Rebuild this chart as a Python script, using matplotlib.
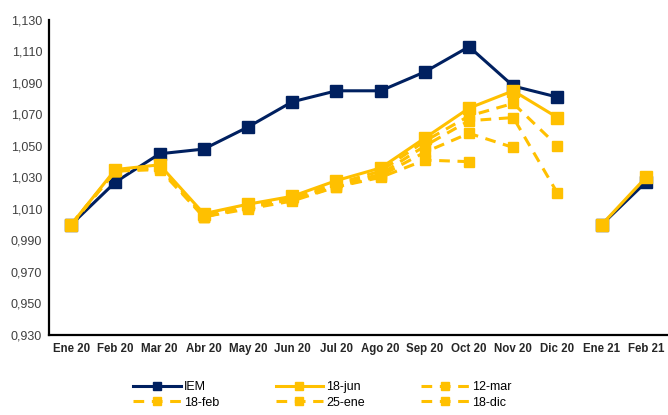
import numpy as np
import matplotlib
matplotlib.use("Agg")
import matplotlib.pyplot as plt

nan = np.nan

months = ["Ene 20", "Feb 20", "Mar 20", "Abr 20", "May 20", "Jun 20", "Jul 20",
          "Ago 20", "Sep 20", "Oct 20", "Nov 20", "Dic 20", "Ene 21", "Feb 21"]

iem = [1.000, 1.027, 1.045, 1.048, 1.062, 1.078, 1.085,
       1.085, 1.097, 1.113, 1.088, 1.081, 1.000, 1.027]
jun18 = [1.000, 1.035, 1.038, 1.007, 1.013, 1.018, 1.028,
         1.036, 1.055, 1.074, 1.085, 1.068, 1.000, 1.030]
mar12 = [1.000, 1.034, 1.037, 1.006, 1.012, 1.017, 1.026,
         1.034, 1.053, 1.069, 1.077, 1.050, nan, nan]
feb18 = [1.000, 1.034, 1.036, 1.005, 1.011, 1.016, 1.025,
         1.032, 1.050, 1.066, 1.068, 1.020, nan, nan]
ene25 = [1.000, 1.034, 1.036, 1.005, 1.011, 1.016, 1.024,
         1.031, 1.046, 1.058, 1.049, nan, nan, nan]
dic18 = [1.000, 1.034, 1.035, 1.005, 1.010, 1.015, 1.024,
         1.030, 1.041, 1.040, nan, nan, nan, nan]

yticks = [0.930, 0.950, 0.970, 0.990, 1.010, 1.030, 1.050, 1.070, 1.090, 1.110, 1.130]

NAVY = "#002060"
GOLD = "#FFC000"
DASH = (0, (3.5, 2.5))

plt.rcParams["font.family"] = ["Liberation Sans", "DejaVu Sans"]

fig = plt.figure(figsize=(6.68, 4.15), dpi=100)
ax = fig.add_axes([0.0734, 0.193, 0.9266, 0.759])

x = np.arange(len(months))
brk = 12  # the 2021 year starts a new segment


def plot_split(vals, **kw):
    vals = np.array(vals, dtype=float)
    h, = ax.plot(x[:brk], vals[:brk], **kw)
    kw.pop("label", None)
    ax.plot(x[brk:], vals[brk:], **kw)
    return h


h_iem = plot_split(iem, color=NAVY, lw=2.2, marker="s", ms=8.5, label="IEM", zorder=3)
dashed = {}
for lab, vals in [("12-mar", mar12), ("18-feb", feb18), ("25-ene", ene25), ("18-dic", dic18)]:
    dashed[lab] = plot_split(vals, color=GOLD, lw=2.2, ls=DASH, marker="s",
                             ms=7.5, label=lab, zorder=4)
h_jun = plot_split(jun18, color=GOLD, lw=2.2, marker="s", ms=8, label="18-jun", zorder=5)

ax.set_xlim(-0.5, len(months) - 0.5)
ax.set_ylim(0.930, 1.130)
ax.set_xticks(x)
ax.set_xticklabels(months, fontsize=8.3, fontweight="bold", color="#262626")
ax.set_yticks(yticks)
ax.set_yticklabels([f"{v:.3f}".replace(".", ",") for v in yticks], fontsize=9, color="#404040")
ax.tick_params(length=0, pad=6)
ax.tick_params(axis="y", pad=5)

for s in ["top", "right"]:
    ax.spines[s].set_visible(False)
for s in ["left", "bottom"]:
    ax.spines[s].set_color("black")
    ax.spines[s].set_linewidth(1.6)

handles = [h_iem, dashed["18-feb"], h_jun, dashed["25-ene"], dashed["12-mar"], dashed["18-dic"]]
fig.legend(handles=handles, labels=[h.get_label() for h in handles], ncol=3,
           loc="lower left", bbox_to_anchor=(0.183, -0.012), frameon=False,
           fontsize=9, handlelength=3.8, columnspacing=4.5, labelspacing=0.3,
           handletextpad=0.25, markerscale=0.7)

fig.savefig("out.png", dpi=100)
